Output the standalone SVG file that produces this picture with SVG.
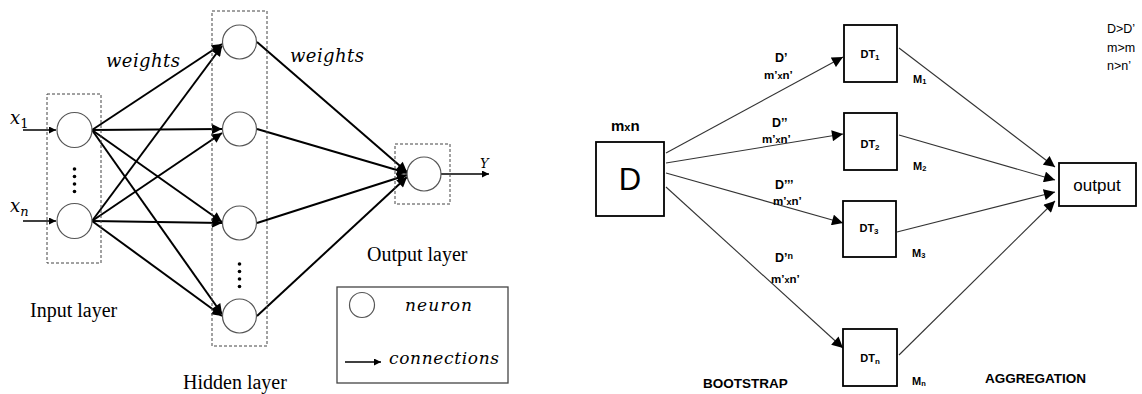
<svg xmlns="http://www.w3.org/2000/svg" width="1142" height="394" viewBox="0 0 1142 394">
<defs>
<marker id="ah" viewBox="0 0 10 10" refX="10" refY="5" markerWidth="12" markerHeight="10" markerUnits="userSpaceOnUse" orient="auto"><path d="M0,0 L10,5 L0,10 z" fill="#000"/></marker>
<marker id="ahs" viewBox="0 0 10 10" refX="10" refY="5" markerWidth="8" markerHeight="7" markerUnits="userSpaceOnUse" orient="auto"><path d="M0,0 L10,5 L0,10 z" fill="#000"/></marker>
<marker id="ahr" viewBox="0 0 10 10" refX="10" refY="5" markerWidth="12" markerHeight="11" markerUnits="userSpaceOnUse" orient="auto"><path d="M0,0 L10,5 L0,10 z" fill="#000"/></marker>
<style>
.neu{fill:#fff;stroke:#555;stroke-width:1.2}
.dash{fill:none;stroke:#444;stroke-width:1;stroke-dasharray:3,2}
.c{stroke:#000;stroke-width:2;fill:none;marker-end:url(#ah)}
.cs{stroke:#000;stroke-width:1.6;fill:none;marker-end:url(#ahs)}
.r{stroke:#333;stroke-width:1.1;fill:none;marker-end:url(#ahr)}
.box{fill:#fff;stroke:#000;stroke-width:1.8}
.ser{font-family:"Liberation Serif",serif;font-size:20px;fill:#000}
.it{font-family:"DejaVu Serif",serif;font-style:italic;fill:#000}
.sb{font-family:"Liberation Sans",sans-serif;font-weight:bold;fill:#000}
.sn{font-family:"Liberation Sans",sans-serif;fill:#000}
.dot{fill:#000}
</style>
</defs>

<g id="connectors">
<line class="cs" x1="23" y1="130" x2="56" y2="130"/>
<line class="cs" x1="23" y1="221" x2="56" y2="221"/>
<line class="c" x1="92" y1="130" x2="222" y2="44"/>
<line class="c" x1="92" y1="130" x2="222" y2="129"/>
<line class="c" x1="92" y1="130" x2="222" y2="222"/>
<line class="c" x1="92" y1="130" x2="222" y2="314"/>
<line class="c" x1="92" y1="221" x2="222" y2="46"/>
<line class="c" x1="92" y1="221" x2="222" y2="133"/>
<line class="c" x1="92" y1="221" x2="222" y2="223"/>
<line class="c" x1="92" y1="221" x2="222" y2="316"/>
<line class="c" x1="257" y1="42" x2="407" y2="172"/>
<line class="c" x1="257" y1="129" x2="407" y2="173"/>
<line class="c" x1="257" y1="223" x2="407" y2="175"/>
<line class="c" x1="257" y1="316" x2="407" y2="177"/>
<line class="cs" x1="441" y1="174" x2="489" y2="174"/>
<line class="r" x1="666" y1="153" x2="843" y2="57"/>
<line class="r" x1="666" y1="163" x2="843" y2="134"/>
<line class="r" x1="666" y1="173" x2="843" y2="223"/>
<line class="r" x1="666" y1="187" x2="843" y2="348"/>
<line class="r" x1="899" y1="48" x2="1055" y2="167"/>
<line class="r" x1="899" y1="135" x2="1055" y2="180"/>
<line class="r" x1="897" y1="232" x2="1055" y2="192"/>
<line class="r" x1="899" y1="355" x2="1055" y2="201"/>
</g>

<g id="input-layer">
<rect class="dash" x="47" y="94" width="54" height="169"/>
<circle class="neu" cx="74.5" cy="130" r="17.5"/>
<circle class="neu" cx="74.5" cy="221" r="17.5"/>
<circle class="dot" cx="74.5" cy="169" r="1.8"/>
<circle class="dot" cx="74.5" cy="176.5" r="1.8"/>
<circle class="dot" cx="74.5" cy="184" r="1.8"/>
<circle class="dot" cx="74.5" cy="191.5" r="1.8"/>
<text class="it" x="10" y="124" font-size="18">x<tspan font-style="normal" font-size="13" dy="4">1</tspan></text>
<text class="it" x="10" y="212" font-size="18">x<tspan font-size="13" dy="4">n</tspan></text>
<text class="ser" x="30" y="317">Input layer</text>
</g>

<g id="hidden-layer">
<rect class="dash" x="212" y="11" width="55" height="335"/>
<circle class="neu" cx="239.5" cy="42" r="17"/>
<circle class="neu" cx="239.5" cy="129" r="17"/>
<circle class="neu" cx="239.5" cy="223" r="17"/>
<circle class="neu" cx="239.5" cy="316" r="17"/>
<circle class="dot" cx="239.5" cy="264" r="1.8"/>
<circle class="dot" cx="239.5" cy="271.5" r="1.8"/>
<circle class="dot" cx="239.5" cy="279" r="1.8"/>
<circle class="dot" cx="239.5" cy="286.5" r="1.8"/>
<text class="ser" x="183" y="389">Hidden layer</text>
</g>

<g id="output-layer">
<rect class="dash" x="395" y="144" width="55" height="60"/>
<circle class="neu" cx="424" cy="174" r="17"/>
<text class="it" x="480" y="168" font-size="13">Y</text>
<text class="ser" x="367" y="261">Output layer</text>
</g>

<g id="weights-labels">
<text class="it" x="106" y="67" font-size="18" textLength="74">weights</text>
<text class="it" x="290" y="62" font-size="18" textLength="74">weights</text>
</g>

<g id="legend">
<rect x="337" y="287" width="171" height="96" fill="#fff" stroke="#444" stroke-width="1.3"/>
<circle class="neu" cx="362" cy="305" r="12.5"/>
<text class="it" x="405" y="311" font-size="17" textLength="67">neuron</text>
<line class="cs" x1="345" y1="362" x2="381" y2="362"/>
<text class="it" x="389" y="364" font-size="17" textLength="110">connections</text>
</g>

<g id="D">
<rect class="box" x="596" y="142" width="68" height="74"/>
<text class="sn" x="630" y="190" font-size="31" text-anchor="middle">D</text>
<text class="sb" x="611" y="131" font-size="15">m<tspan font-size="11">x</tspan>n</text>
</g>

<g id="bootstrap-labels" class="sb">
<text x="775" y="62" font-size="12.5">D’</text>
<text x="764" y="79" font-size="11.5">m’<tspan font-size="9">x</tspan>n’</text>
<text x="772" y="127" font-size="12.5">D’’</text>
<text x="762" y="143" font-size="11.5">m’<tspan font-size="9">x</tspan>n’</text>
<text x="775" y="189" font-size="12.5">D’’’</text>
<text x="773" y="205" font-size="11.5">m’<tspan font-size="9">x</tspan>n’</text>
<text x="775" y="262" font-size="12.5">D’<tspan font-size="9" dy="-3">n</tspan></text>
<text x="771" y="283" font-size="11.5">m’<tspan font-size="9">x</tspan>n’</text>
<text x="703" y="388" font-size="13.5">BOOTSTRAP</text>
</g>

<g id="DT1">
<rect class="box" x="844" y="25" width="53" height="57"/>
<text class="sb" x="870" y="58" font-size="11" text-anchor="middle">DT<tspan font-size="8" dy="2">1</tspan></text>
<text class="sb" x="913" y="83" font-size="11">M<tspan font-size="7.5" dy="1">1</tspan></text>
</g>
<g id="DT2">
<rect class="box" x="844" y="113" width="53" height="57"/>
<text class="sb" x="870" y="148" font-size="11" text-anchor="middle">DT<tspan font-size="8" dy="2">2</tspan></text>
<text class="sb" x="913" y="170" font-size="11">M<tspan font-size="7.5" dy="1">2</tspan></text>
</g>
<g id="DT3">
<rect class="box" x="843" y="201" width="53" height="56"/>
<text class="sb" x="869" y="232" font-size="11" text-anchor="middle">DT<tspan font-size="8" dy="2">3</tspan></text>
<text class="sb" x="912" y="257" font-size="11">M<tspan font-size="7.5" dy="1">3</tspan></text>
</g>
<g id="DTn">
<rect class="box" x="843" y="329" width="54" height="57"/>
<text class="sb" x="870" y="362" font-size="11" text-anchor="middle">DT<tspan font-size="8" dy="2">n</tspan></text>
<text class="sb" x="912" y="385" font-size="11">M<tspan font-size="7.5" dy="1">n</tspan></text>
</g>

<g id="output">
<rect class="box" x="1059" y="163" width="77" height="43"/>
<text class="sn" x="1097" y="191" font-size="17" text-anchor="middle">output</text>
<text class="sb" x="985" y="383" font-size="13.5">AGGREGATION</text>
</g>

<g id="notes" class="sn" font-size="12.5">
<text x="1107" y="33">D&gt;D’</text>
<text x="1107" y="52">m&gt;m</text>
<text x="1107" y="70">n&gt;n’</text>
</g>
</svg>
